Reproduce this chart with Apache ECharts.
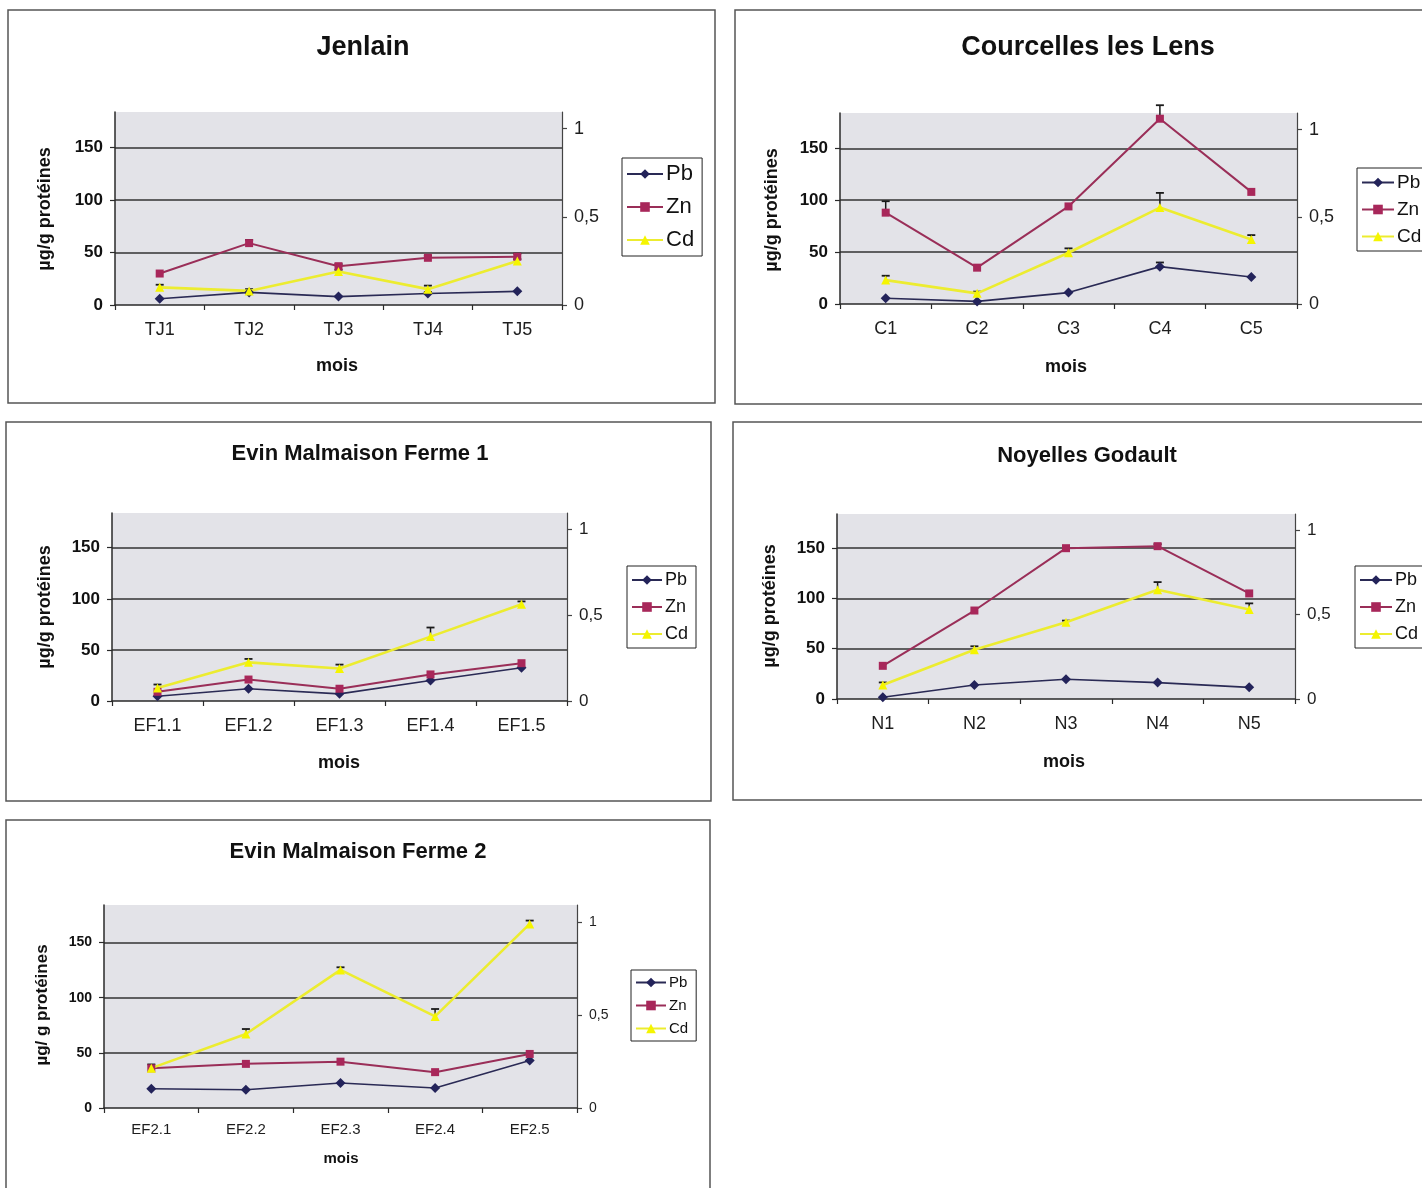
<!DOCTYPE html>
<html><head><meta charset="utf-8">
<script src="https://cdn.jsdelivr.net/npm/echarts@6/dist/echarts.min.js"></script>
<style>html,body{margin:0;padding:0;background:#fff}#c{width:1422px;height:1188px}</style>
</head><body><div id="c"></div>
<script>
// ---------- DATA ----------
const seriesNames = ['Pb', 'Zn', 'Cd'];
const leftTicks = [0, 50, 100, 150];
const rightTicks = [0, 0.5, 1];

const tjCats = ['TJ1', 'TJ2', 'TJ3', 'TJ4', 'TJ5'];
const tjPb = [6, 12, 8, 11, 13];
const tjZn = [30, 59, 37, 45, 46];
const tjCd = [0.10, 0.08, 0.19, 0.09, 0.25];
const tjPbErr = [0, 1.5, 0, 1.5, 0];
const tjZnErr = [0, 3, 2, 2, 3];
const tjCdErr = [0.015, 0.01, 0.01, 0.02, 0.01];

const cCats = ['C1', 'C2', 'C3', 'C4', 'C5'];
const cPb = [5.5, 2.5, 11, 36, 26];
const cZn = [88, 35, 94, 178.5, 108];
const cCd = [0.137, 0.061, 0.294, 0.553, 0.37];
const cPbErr = [0, 0, 0, 4, 0];
const cZnErr = [11, 0, 0, 13, 0];
const cCdErr = [0.025, 0.01, 0.025, 0.084, 0.025];

const ef1Cats = ['EF1.1', 'EF1.2', 'EF1.3', 'EF1.4', 'EF1.5'];
const ef1Pb = [4.6, 12, 7, 20, 32.5];
const ef1Zn = [9, 21, 12, 26, 37];
const ef1Cd = [0.076, 0.225, 0.189, 0.375, 0.564];
const ef1PbErr = [0, 0, 0, 0, 0];
const ef1ZnErr = [0, 0, 0, 0, 0];
const ef1CdErr = [0.02, 0.02, 0.023, 0.053, 0.016];

const nCats = ['N1', 'N2', 'N3', 'N4', 'N5'];
const nPb = [1.7, 14, 19.6, 16.3, 11.6];
const nZn = [33, 88, 150, 152, 105];
const nCd = [0.083, 0.292, 0.454, 0.647, 0.53];
const nPbErr = [0, 0, 0, 0, 0];
const nZnErr = [0, 0, 0, 2, 0];
const nCdErr = [0.015, 0.02, 0.01, 0.045, 0.036];

const ef2Cats = ['EF2.1', 'EF2.2', 'EF2.3', 'EF2.4', 'EF2.5'];
const ef2Pb = [17.5, 16.6, 22.6, 18.1, 43];
const ef2Zn = [36, 40, 42, 32.5, 49];
const ef2Cd = [0.215, 0.399, 0.745, 0.494, 0.993];
const ef2PbErr = [0, 0, 0, 0, 0];
const ef2ZnErr = [0, 0, 0, 0, 0];
const ef2CdErr = [0.02, 0.027, 0.014, 0.04, 0.018];

// ---------- LAYOUT ----------
const FONT = '"Liberation Sans", Arial, sans-serif';
const panels = [
  { title: 'Jenlain', cats: tjCats, vals: [tjPb, tjZn, tjCd], errs: [tjPbErr, tjZnErr, tjCdErr],
    box: [8, 10, 707, 393], grid: { left: 115, top: 112, width: 447, height: 193 },
    titleXY: [363, 48], titleSize: 27, yName: 'µg/g protéines', yNameXY: [45, 209], moisXY: [337, 366],
    fs: { left: 17, x: 18, right: 18, legend: 22, name: 18, mois: 18 }, legend: { left: 622, top: 158, gap: 11, w: 36 } },
  { title: 'Courcelles les Lens', cats: cCats, vals: [cPb, cZn, cCd], errs: [cPbErr, cZnErr, cCdErr],
    box: [735, 10, 700, 394], grid: { left: 840, top: 113, width: 457, height: 191 },
    titleXY: [1088, 48], titleSize: 27, yName: 'µg/g protéines', yNameXY: [772, 210], moisXY: [1066, 367],
    fs: { left: 17, x: 18, right: 18, legend: 19, name: 18, mois: 18 }, legend: { left: 1357, top: 168, gap: 8, w: 32 } },
  { title: 'Evin Malmaison Ferme 1', cats: ef1Cats, vals: [ef1Pb, ef1Zn, ef1Cd], errs: [ef1PbErr, ef1ZnErr, ef1CdErr],
    box: [6, 422, 705, 379], grid: { left: 112, top: 513, width: 455, height: 188 },
    titleXY: [360, 454], titleSize: 22, yName: 'µg/g protéines', yNameXY: [45, 607], moisXY: [339, 763],
    fs: { left: 17, x: 18, right: 17, legend: 18, name: 18, mois: 18 }, legend: { left: 627, top: 566, gap: 9, w: 30 } },
  { title: 'Noyelles Godault', cats: nCats, vals: [nPb, nZn, nCd], errs: [nPbErr, nZnErr, nCdErr],
    box: [733, 422, 700, 378], grid: { left: 837, top: 514, width: 458, height: 185 },
    titleXY: [1087, 456], titleSize: 22, yName: 'µg/g protéines', yNameXY: [770, 606], moisXY: [1064, 762],
    fs: { left: 17, x: 18, right: 17, legend: 18, name: 18, mois: 18 }, legend: { left: 1355, top: 566, gap: 9, w: 32 } },
  { title: 'Evin Malmaison Ferme 2', cats: ef2Cats, vals: [ef2Pb, ef2Zn, ef2Cd], errs: [ef2PbErr, ef2ZnErr, ef2CdErr],
    box: [6, 820, 704, 380], grid: { left: 104, top: 905, width: 473, height: 203 },
    titleXY: [358, 852], titleSize: 22, yName: 'µg/ g protéines', yNameXY: [42, 1005], moisXY: [341, 1159],
    fs: { left: 14, x: 15, right: 14, legend: 15, name: 17, mois: 15 }, legend: { left: 631, top: 970, gap: 8, w: 30 } }
];

const LEFT_MAX = 184, RIGHT_MAX = 1.095;
const styles = [
  { color: '#23235a', line: '#2a2a55', symbol: 'diamond', size: 10, width: 1.6 },
  { color: '#a8275a', line: '#9a2e58', symbol: 'rect', size: 8, width: 2 },
  { color: '#f5f500', line: '#ecec30', symbol: 'triangle', size: 9, width: 2.6 }
];

function errRender(params, api) {
  const x = api.value(0), y = api.value(1), e = api.value(2);
  const p0 = api.coord([x, y]);
  const p1 = api.coord([x, y + e]);
  const hw = 4;
  return { type: 'group', children: [
    { type: 'line', shape: { x1: p0[0], y1: p0[1], x2: p1[0], y2: p1[1] }, style: { stroke: '#1a1a1a', lineWidth: 1.5 } },
    { type: 'line', shape: { x1: p1[0] - hw, y1: p1[1], x2: p1[0] + hw, y2: p1[1] }, style: { stroke: '#1a1a1a', lineWidth: 1.8 } }
  ] };
}

const grid = [], xAxis = [], yAxis = [], series = [], legend = [], graphic = [];
const axisCol = '#2a2a2a';
panels.forEach((p, i) => {
  grid.push(Object.assign({ show: true, backgroundColor: '#e3e3e8', borderWidth: 0 }, p.grid));
  xAxis.push({
    type: 'category', gridIndex: i, data: p.cats, boundaryGap: true,
    axisLine: { lineStyle: { color: axisCol, width: 1.5 } },
    axisTick: { show: true, length: 5, lineStyle: { color: axisCol, width: 1.2 } },
    axisLabel: { color: '#1e1e1e', fontSize: p.fs.x, fontFamily: FONT, margin: p.fs.x >= 17 ? 16 : 14 },
    splitLine: { show: false }
  });
  yAxis.push({
    type: 'value', gridIndex: i, position: 'left', min: 0, max: LEFT_MAX, interval: 50,
    axisLine: { show: true, lineStyle: { color: axisCol, width: 1.5 } },
    axisTick: { show: true, length: 5, customValues: leftTicks, lineStyle: { color: axisCol, width: 1.2 } },
    axisLabel: { color: '#111', fontSize: p.fs.left, fontWeight: 'bold', fontFamily: FONT, margin: 12,
      customValues: leftTicks },
    splitLine: { show: true, showMinLine: false, showMaxLine: true, lineStyle: { color: '#333', width: 1.5 } }
  });
  yAxis.push({
    type: 'value', gridIndex: i, position: 'right', min: 0, max: RIGHT_MAX, interval: 0.5,
    axisLine: { show: true, lineStyle: { color: '#444', width: 1.2 } },
    axisTick: { show: true, length: 5, customValues: rightTicks, lineStyle: { color: '#444', width: 1.2 } },
    axisLabel: { color: '#1e1e1e', fontSize: p.fs.right, fontFamily: FONT, margin: 12,
      customValues: rightTicks,
      formatter: v => String(v).replace('.', ',') },
    splitLine: { show: false }
  });
  seriesNames.forEach((name, k) => {
    const st = styles[k];
    const yIdx = k === 2 ? 2 * i + 1 : 2 * i;
    series.push({
      type: 'line', name: name, xAxisIndex: i, yAxisIndex: yIdx, data: p.vals[k],
      symbol: st.symbol, symbolSize: st.size, showSymbol: true,
      itemStyle: { color: st.color }, lineStyle: { color: st.line, width: st.width },
      z: 3, animation: false, silent: true
    });
    const errData = p.vals[k].map((v, j) => [j, v, p.errs[k][j]]).filter(d => d[2] > 0);
    if (errData.length) series.push({
      type: 'custom', name: 'err' + name + i, xAxisIndex: i, yAxisIndex: yIdx,
      data: errData, renderItem: errRender, encode: { x: 0, y: 1 }, z: 2, animation: false, silent: true
    });
  });
  legend.push({
    data: seriesNames, orient: 'vertical', left: p.legend.left, top: p.legend.top,
    itemGap: p.legend.gap, itemWidth: p.legend.w, itemHeight: 12, padding: [5, 8, 5, 4],
    backgroundColor: '#fff', borderColor: '#222', borderWidth: 1, borderRadius: 0,
    textStyle: { fontSize: p.fs.legend, fontFamily: FONT, color: '#111', padding: [0, 0, 0, -2] },
    selectedMode: false
  });
  graphic.push({ type: 'rect', shape: { x: p.box[0], y: p.box[1], width: p.box[2], height: p.box[3] },
    style: { fill: 'none', stroke: '#555', lineWidth: 1.5 }, z: 0, silent: true });
  graphic.push({ type: 'text', x: p.titleXY[0], y: p.titleXY[1],
    style: { text: p.title, font: 'bold ' + p.titleSize + 'px ' + FONT, fill: '#111', textAlign: 'center', textVerticalAlign: 'middle' } });
  graphic.push({ type: 'text', x: p.yNameXY[0], y: p.yNameXY[1], rotation: Math.PI / 2,
    style: { text: p.yName, font: 'bold ' + p.fs.name + 'px ' + FONT, fill: '#111', textAlign: 'center', textVerticalAlign: 'middle' } });
  graphic.push({ type: 'text', x: p.moisXY[0], y: p.moisXY[1],
    style: { text: 'mois', font: 'bold ' + p.fs.mois + 'px ' + FONT, fill: '#111', textAlign: 'center', textVerticalAlign: 'middle' } });
});

const chart = echarts.init(document.getElementById('c'), null, { renderer: 'canvas' });
chart.setOption({ backgroundColor: '#fff', animation: false, grid, xAxis, yAxis, series, legend, graphic });
</script></body></html>
